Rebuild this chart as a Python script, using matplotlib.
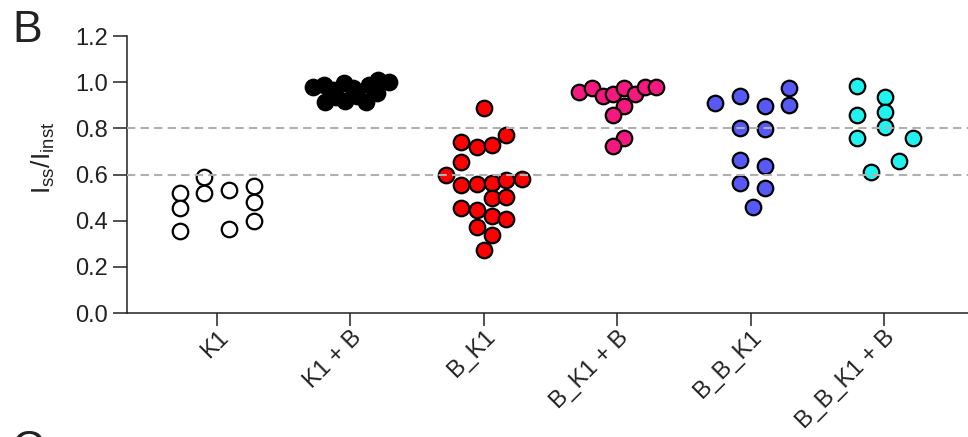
import matplotlib
matplotlib.use("Agg")
import matplotlib.pyplot as plt

plt.rcParams['font.family'] = ['Liberation Sans', 'DejaVu Sans']
plt.rcParams['mathtext.fontset'] = 'custom'
plt.rcParams['mathtext.rm'] = 'Liberation Sans'
plt.rcParams['mathtext.it'] = 'Liberation Sans'

# Constructs and their steady-state / instantaneous current ratios
categories = ["K1", "K1 + B", "B_K1", "B_K1 + B", "B_B_K1", "B_B_K1 + B"]

k1 = [0.52, 0.455, 0.355, 0.589, 0.52, 0.533, 0.364, 0.55, 0.481, 0.399]
k1_b = [0.979, 0.988, 0.966, 0.997, 0.975, 0.988, 1.01, 1.0,
        0.914, 0.919, 0.914, 0.953, 0.936, 0.94]
b_k1 = [0.888, 0.771, 0.741, 0.719, 0.728, 0.654, 0.598, 0.555, 0.559,
        0.563, 0.576, 0.581, 0.498, 0.503, 0.455, 0.446, 0.420, 0.407,
        0.373, 0.338, 0.273]
b_k1_b = [0.958, 0.975, 0.94, 0.949, 0.975, 0.949, 0.979, 0.979,
          0.897, 0.858, 0.758, 0.724]
b_b_k1 = [0.91, 0.94, 0.897, 0.975, 0.901, 0.80, 0.797, 0.663, 0.637,
          0.563, 0.542, 0.459]
b_b_k1_b = [0.984, 0.936, 0.871, 0.858, 0.806, 0.758, 0.758, 0.659, 0.611]

# Horizontal spread of each point around its column (scatter layout)
k1_dx = [-0.28, -0.28, -0.28, -0.10, -0.10, 0.09, 0.09, 0.28, 0.28, 0.28]
k1_b_dx = [-0.28, -0.20, -0.13, -0.05, 0.02, 0.14, 0.21, 0.29,
           -0.19, -0.04, 0.12, 0.20, -0.11, 0.05]
b_k1_dx = [0.0, 0.17, -0.17, -0.05, 0.06, -0.17, -0.28, -0.17, -0.05,
           0.06, 0.17, 0.29, 0.06, 0.17, -0.17, -0.05, 0.06, 0.17,
           -0.05, 0.06, 0.0]
b_k1_b_dx = [-0.29, -0.19, -0.11, -0.03, 0.05, 0.13, 0.21, 0.29,
             0.05, -0.03, 0.05, -0.03]
b_b_k1_dx = [-0.27, -0.08, 0.11, 0.29, 0.29, -0.08, 0.11, -0.08, 0.11,
             -0.08, 0.11, 0.02]
b_b_k1_b_dx = [-0.20, 0.01, 0.01, -0.20, 0.01, -0.20, 0.22, 0.11, -0.10]

reference_levels = [0.6, 0.8]

groups = [k1, k1_b, b_k1, b_k1_b, b_b_k1, b_b_k1_b]
offsets = [k1_dx, k1_b_dx, b_k1_dx, b_k1_b_dx, b_b_k1_dx, b_b_k1_b_dx]
face_colors = ["white", "black", "#ff0000", "#f5197f", "#5858f5", "#22f2ee"]

fig = plt.figure(figsize=(9.68, 4.37), dpi=100)
ax = fig.add_axes([127 / 968, (437 - 313) / 437, 1 - 127 / 968, 277 / 437])

for i, (vals, dxs, fc) in enumerate(zip(groups, offsets, face_colors)):
    xs = [i + d for d in dxs]
    ax.scatter(xs, vals, s=125, facecolors=fc, edgecolors="black",
               linewidths=1.6, zorder=3, clip_on=False)

for lvl in reference_levels:
    ax.axhline(lvl, color="#b0b0b0", lw=1.5, dashes=(4, 2.5), zorder=4)

ax.set_xlim(-0.675, 5.63)
ax.set_ylim(0, 1.2)
ax.set_yticks([0.0, 0.2, 0.4, 0.6, 0.8, 1.0, 1.2])
ax.set_yticklabels([f"{v:.1f}" for v in [0.0, 0.2, 0.4, 0.6, 0.8, 1.0, 1.2]])
ax.set_xticks(range(len(categories)))
ax.set_xticklabels(categories, rotation=45, ha="right", va="top",
                   rotation_mode="anchor")

for side in ["top", "right"]:
    ax.spines[side].set_visible(False)
for side in ["left", "bottom"]:
    ax.spines[side].set_linewidth(1.1)
    ax.spines[side].set_color("#222222")

ax.tick_params(axis="y", length=10, width=1.1, pad=3.5, labelsize=17,
               colors="#222222")
ax.tick_params(axis="x", length=9.5, width=1.1, pad=0, labelsize=17,
               colors="#222222")

ax.set_ylabel(r"$\mathregular{I_{ss}/I_{inst}}$", fontsize=19, color="#222222")
ax.yaxis.set_label_coords(-0.083, 0.56)

fig.text(12 / 968, 1 - 42 / 437, "B", fontsize=32, color="#222222",
         ha="left", va="baseline")
fig.text(12 / 968, -25 / 437, "C", fontsize=32, color="#222222",
         ha="left", va="baseline")

fig.savefig("out.png", dpi=100)
